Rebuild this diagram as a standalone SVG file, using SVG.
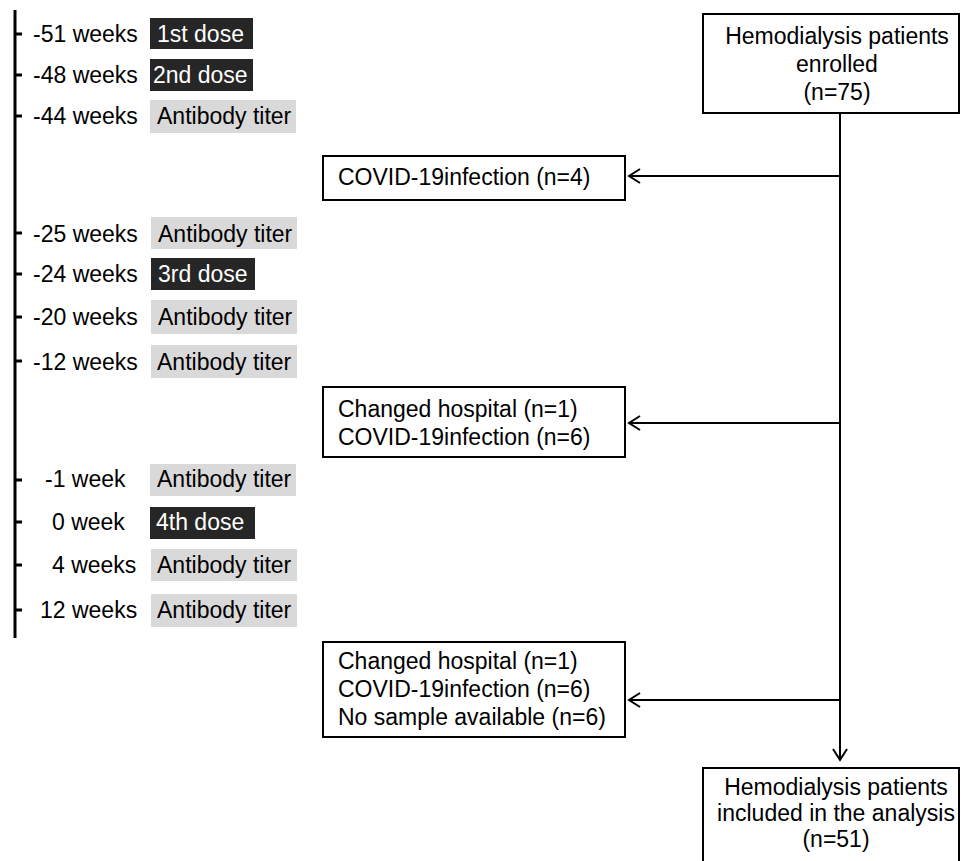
<svg xmlns="http://www.w3.org/2000/svg" width="961" height="861" viewBox="0 0 961 861">
<style>
text{font-family:"Liberation Sans",Arial,sans-serif;font-size:23px;fill:#000}
.dk{fill:#262626}
.gy{fill:#d9d9d9}
.wt{fill:#fff}
.box{fill:#fff;stroke:#000;stroke-width:2}
.tick{stroke:#000;stroke-width:3}
.conn{stroke:#000;stroke-width:2;fill:none;marker-end:url(#ah)}
.c{text-anchor:middle}
</style>
<defs>
<marker id="ah" markerUnits="userSpaceOnUse" viewBox="0 0 14 16" refX="12" refY="8" markerWidth="14" markerHeight="16" orient="auto">
<path d="M1,1 L12,8 L1,15" fill="none" stroke="#000" stroke-width="2"/>
</marker>
</defs>

<g id="timeline">
<line x1="15" y1="10" x2="15" y2="638" stroke="#000" stroke-width="3"/>
</g>

<g id="t-51">
<line class="tick" x1="15" y1="34" x2="22" y2="34"/>
<text x="33" y="42">-51 weeks</text>
<rect class="dk" x="150" y="18" width="103" height="31"/>
<text class="wt" x="157" y="42">1st dose</text>
</g>
<g id="t-48">
<line class="tick" x1="15" y1="75" x2="22" y2="75"/>
<text x="33" y="83">-48 weeks</text>
<rect class="dk" x="150" y="59" width="103" height="32"/>
<text class="wt" x="153" y="83">2nd dose</text>
</g>
<g id="t-44">
<line class="tick" x1="15" y1="116" x2="22" y2="116"/>
<text x="33" y="124">-44 weeks</text>
<rect class="gy" x="150" y="100" width="146" height="33"/>
<text x="157" y="124">Antibody titer</text>
</g>
<g id="t-25">
<line class="tick" x1="15" y1="233" x2="22" y2="233"/>
<text x="33" y="242">-25 weeks</text>
<rect class="gy" x="151" y="217" width="146" height="32"/>
<text x="158" y="242">Antibody titer</text>
</g>
<g id="t-24">
<line class="tick" x1="15" y1="274" x2="22" y2="274"/>
<text x="33" y="282">-24 weeks</text>
<rect class="dk" x="151" y="258" width="104" height="32"/>
<text class="wt" x="158" y="282">3rd dose</text>
</g>
<g id="t-20">
<line class="tick" x1="15" y1="317" x2="22" y2="317"/>
<text x="33" y="325">-20 weeks</text>
<rect class="gy" x="151" y="300" width="146" height="34"/>
<text x="158" y="325">Antibody titer</text>
</g>
<g id="t-12">
<line class="tick" x1="15" y1="361" x2="22" y2="361"/>
<text x="33" y="370">-12 weeks</text>
<rect class="gy" x="151" y="345" width="146" height="33"/>
<text x="157" y="370">Antibody titer</text>
</g>
<g id="t-1">
<line class="tick" x1="15" y1="480" x2="22" y2="480"/>
<text x="45" y="487">-1 week</text>
<rect class="gy" x="150" y="464" width="146" height="32"/>
<text x="157" y="487">Antibody titer</text>
</g>
<g id="t0">
<line class="tick" x1="15" y1="522" x2="22" y2="522"/>
<text x="52" y="530">0 week</text>
<rect class="dk" x="150" y="507" width="105" height="32"/>
<text class="wt" x="156" y="530">4th dose</text>
</g>
<g id="t4">
<line class="tick" x1="15" y1="565" x2="22" y2="565"/>
<text x="52" y="573">4 weeks</text>
<rect class="gy" x="151" y="549" width="146" height="32"/>
<text x="157" y="573">Antibody titer</text>
</g>
<g id="t12">
<line class="tick" x1="15" y1="610" x2="22" y2="610"/>
<text x="40" y="618">12 weeks</text>
<rect class="gy" x="151" y="594" width="146" height="33"/>
<text x="157" y="618">Antibody titer</text>
</g>

<g id="connectors">
<line class="conn" x1="840" y1="113" x2="840" y2="760"/>
<line class="conn" x1="840" y1="176" x2="629" y2="176"/>
<line class="conn" x1="840" y1="423" x2="629" y2="423"/>
<line class="conn" x1="840" y1="700" x2="629" y2="700"/>
</g>

<g id="enrolled">
<rect class="box" x="703" y="14" width="256" height="99"/>
<text class="c" x="837" y="44">Hemodialysis patients</text>
<text class="c" x="837" y="72">enrolled</text>
<text class="c" x="837" y="100">(n=75)</text>
</g>
<g id="excl1">
<rect class="box" x="323" y="156" width="302" height="44"/>
<text x="338" y="185">COVID-19infection (n=4)</text>
</g>
<g id="excl2">
<rect class="box" x="323" y="387" width="302" height="70"/>
<text x="338" y="417">Changed hospital (n=1)</text>
<text x="338" y="445">COVID-19infection (n=6)</text>
</g>
<g id="excl3">
<rect class="box" x="323" y="642" width="302" height="95"/>
<text x="338" y="669">Changed hospital (n=1)</text>
<text x="338" y="697">COVID-19infection (n=6)</text>
<text x="338" y="725">No sample available  (n=6)</text>
</g>
<g id="analysis">
<rect class="box" x="703" y="768" width="256" height="110"/>
<text class="c" x="836" y="795">Hemodialysis patients</text>
<text class="c" x="836" y="821">included in the analysis</text>
<text class="c" x="836" y="847">(n=51)</text>
</g>
</svg>
